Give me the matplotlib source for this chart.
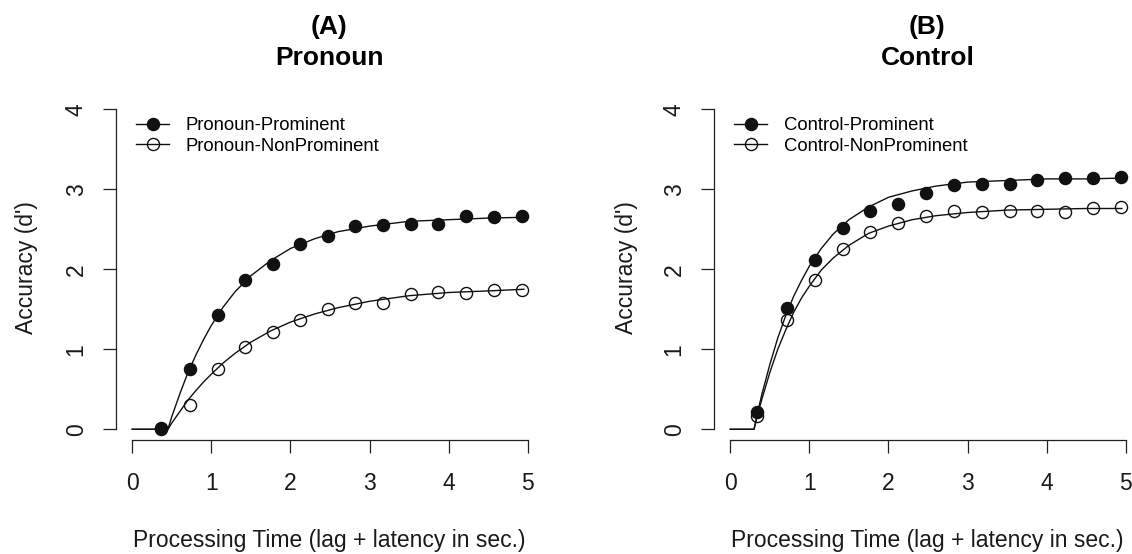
import matplotlib
matplotlib.use("Agg")
import matplotlib.pyplot as plt
from matplotlib.lines import Line2D

plt.rcParams['font.family'] = ['Liberation Sans', 'DejaVu Sans']

# ---- Panel A: Pronoun ----
time_A = [0.36, 0.73, 1.08, 1.43, 1.78, 2.12, 2.47, 2.82, 3.17, 3.52, 3.87, 4.22, 4.57, 4.93]
pron_prom = [0.01, 0.75, 1.43, 1.86, 2.07, 2.31, 2.41, 2.54, 2.55, 2.57, 2.57, 2.66, 2.65, 2.66]
pron_nonprom = [0.00, 0.30, 0.75, 1.03, 1.22, 1.37, 1.50, 1.58, 1.58, 1.69, 1.71, 1.70, 1.74, 1.74]

# fitted curves
fit_time_A = [0, 0.45, 0.50, 0.60, 0.70, 0.80, 0.90, 1.00, 1.15, 1.30, 1.50, 1.75, 2.00,
              2.30, 2.60, 3.00, 3.50, 4.00, 4.50, 4.95]
fit_pron_prom = [0, 0, 0.16, 0.44, 0.70, 0.92, 1.12, 1.30, 1.53, 1.72, 1.92, 2.11, 2.26,
                 2.38, 2.47, 2.54, 2.60, 2.62, 2.64, 2.65]
fit_pron_nonprom = [0, 0, 0.08, 0.22, 0.36, 0.48, 0.59, 0.69, 0.83, 0.95, 1.09, 1.23, 1.34,
                    1.44, 1.52, 1.60, 1.67, 1.71, 1.73, 1.75]

# ---- Panel B: Control ----
time_B = [0.34, 0.72, 1.07, 1.42, 1.77, 2.12, 2.47, 2.83, 3.18, 3.53, 3.88, 4.23, 4.58, 4.94]
ctrl_prom = [0.21, 1.52, 2.11, 2.52, 2.73, 2.82, 2.95, 3.05, 3.07, 3.06, 3.12, 3.14, 3.14, 3.15]
ctrl_nonprom = [0.16, 1.37, 1.87, 2.25, 2.46, 2.58, 2.66, 2.73, 2.71, 2.73, 2.73, 2.72, 2.76, 2.78]

fit_time_B = [0, 0.30, 0.35, 0.40, 0.50, 0.60, 0.70, 0.80, 0.90, 1.00, 1.15, 1.30, 1.50,
              1.75, 2.00, 2.30, 2.60, 3.00, 3.50, 4.00, 4.50, 4.95]
fit_ctrl_prom = [0, 0, 0.23, 0.44, 0.81, 1.14, 1.42, 1.66, 1.86, 2.04, 2.26, 2.44, 2.62,
                 2.78, 2.90, 2.98, 3.04, 3.09, 3.11, 3.13, 3.13, 3.14]
fit_ctrl_nonprom = [0, 0, 0.20, 0.38, 0.71, 1.00, 1.24, 1.46, 1.64, 1.79, 1.99, 2.14, 2.30,
                    2.45, 2.54, 2.62, 2.67, 2.71, 2.74, 2.75, 2.76, 2.76]

x_ticks = [0, 1, 2, 3, 4, 5]
y_ticks = [0, 1, 2, 3, 4]
titles = ["(A)\nPronoun", "(B)\nControl"]
legend_A = ["Pronoun-Prominent", "Pronoun-NonProminent"]
legend_B = ["Control-Prominent", "Control-NonProminent"]
xlabel = "Processing Time (lag + latency in sec.)"
ylabel = "Accuracy (d')"

W, H = 1132, 554
fig = plt.figure(figsize=(W / 100, H / 100), dpi=100)

panels = [
    dict(left=116, t=time_A, p=pron_prom, n=pron_nonprom, ft=fit_time_A, fp=fit_pron_prom,
         fn=fit_pron_nonprom, labels=legend_A, title=titles[0], leg_x=136, ylab_x=27),
    dict(left=714, t=time_B, p=ctrl_prom, n=ctrl_nonprom, ft=fit_time_B, fp=fit_ctrl_prom,
         fn=fit_ctrl_nonprom, labels=legend_B, title=titles[1], leg_x=734, ylab_x=627),
]

ax_w = 427.0
ax_top, ax_bot = 96.5, 440.0
lc = '#111111'
ms = 8.7

for pn in panels:
    ax = fig.add_axes([pn['left'] / W, 1 - ax_bot / H, ax_w / W, (ax_bot - ax_top) / H])
    ax.set_xlim(-0.206, -0.206 + ax_w / 79.1)
    ax.set_ylim(-0.134, 4.16)
    for s in ['top', 'right']:
        ax.spines[s].set_visible(False)
    ax.spines['left'].set_bounds(0, 4)
    ax.spines['bottom'].set_bounds(0, 5)
    for s in ['left', 'bottom']:
        ax.spines[s].set_linewidth(0.9)
        ax.spines[s].set_color('#222222')
    ax.set_xticks(x_ticks)
    ax.set_yticks(y_ticks)
    ax.tick_params(axis='both', direction='out', length=9.4, width=0.9, color='#222222',
                   labelsize=16.5, labelcolor='#1a1a1a')
    ax.tick_params(axis='x', pad=14)
    ax.tick_params(axis='y', pad=11)
    for lab in ax.get_yticklabels():
        lab.set_rotation(90)
        lab.set_va('center')

    ax.plot(pn['ft'], pn['fp'], color=lc, lw=1.0, zorder=2)
    ax.plot(pn['ft'], pn['fn'], color=lc, lw=1.0, zorder=2)
    ax.plot(pn['t'], pn['p'], 'o', color=lc, ms=ms, mec=lc, zorder=3)
    ax.plot(pn['t'], pn['n'], 'o', mfc='none', mec=lc, mew=1.0, ms=ms, zorder=3)

    handles = [Line2D([], [], color=lc, lw=1.0, marker='o', ms=ms, mfc=lc, mec=lc),
               Line2D([], [], color=lc, lw=1.0, marker='o', ms=ms, mfc='none', mec=lc)]
    ax.legend(handles, pn['labels'], loc='upper left', frameon=False, fontsize=13.3,
              bbox_to_anchor=(pn['leg_x'] / W, 1 - 117 / H), bbox_transform=fig.transFigure,
              borderpad=0, borderaxespad=0, handlelength=1.8, handletextpad=0.9,
              labelspacing=0.2)

    cx = (pn['left'] + ax_w / 2) / W
    t1, t2 = pn['title'].split("\n")
    fig.text(cx, 1 - 27 / H, t1, ha='center', va='center', fontsize=19, fontweight='bold')
    fig.text(cx, 1 - 58 / H, t2, ha='center', va='center', fontsize=19, fontweight='bold')
    fig.text(cx, 1 - 540 / H, xlabel, ha='center', va='center', fontsize=16.5, color='#1a1a1a')
    fig.text(pn['ylab_x'] / W, 1 - 268 / H, ylabel, ha='center', va='center', rotation=90,
             fontsize=16.5, color='#1a1a1a')

fig.savefig("out.png", dpi=100)
